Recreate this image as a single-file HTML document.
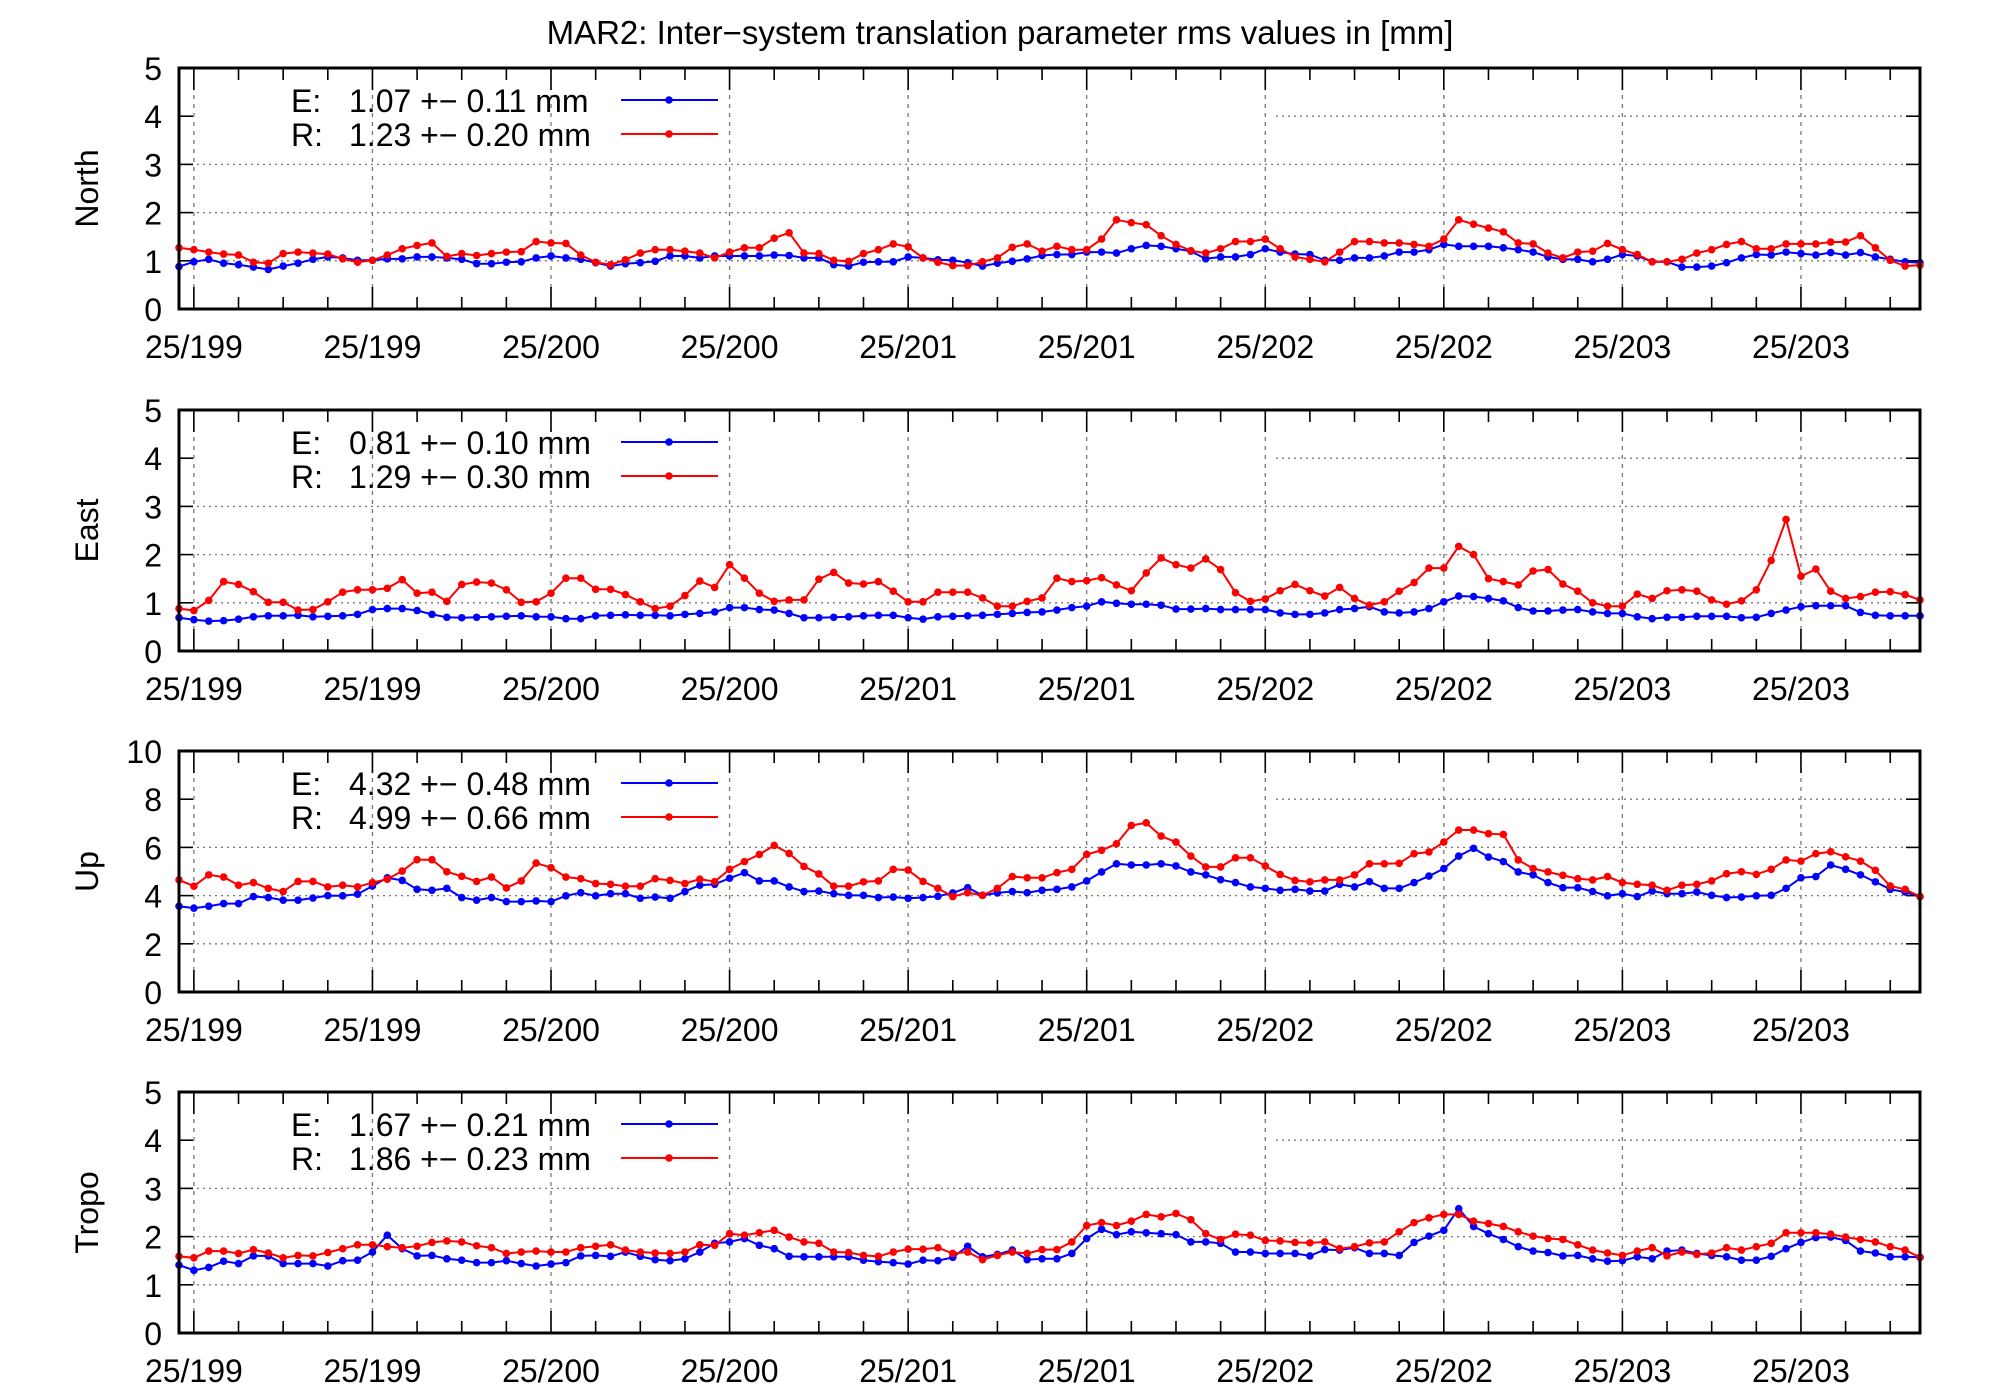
<!DOCTYPE html>
<html><head><meta charset="utf-8"><style>
html,body{margin:0;padding:0;background:#fff;}
svg{display:block;font-family:"Liberation Sans",sans-serif;}
</style></head><body>
<svg id="chart" width="2000" height="1400" viewBox="0 0 2000 1400" xmlns="http://www.w3.org/2000/svg">
<rect width="2000" height="1400" fill="#fff"/>
<text x="1000" y="44" font-size="33" text-anchor="middle">MAR2: Inter−system translation parameter rms values in [mm]</text>
</svg>
<script>
const xTickLabels=["25/199","25/199","25/200","25/200","25/201","25/201","25/202","25/202","25/203","25/203"];
const panelNames=["North","East","Up","Tropo"];
const panelYMax=[5,5,10,5];
const panelYStep=[1,1,2,1];
const legendE=["1.07 +− 0.11 mm","0.81 +− 0.10 mm","4.32 +− 0.48 mm","1.67 +− 0.21 mm"];
const legendR=["1.23 +− 0.20 mm","1.29 +− 0.30 mm","4.99 +− 0.66 mm","1.86 +− 0.23 mm"];
const northE=[0.88,0.98,1.03,0.95,0.92,0.87,0.82,0.89,0.95,1.03,1.08,1.06,1.01,1.01,1.04,1.04,1.08,1.08,1.06,1.03,0.94,0.94,0.97,0.98,1.06,1.1,1.06,1.03,0.96,0.89,0.94,0.96,0.99,1.1,1.1,1.06,1.1,1.1,1.1,1.1,1.12,1.11,1.06,1.06,0.92,0.89,0.97,0.98,0.98,1.08,1.06,1.02,1.01,0.96,0.89,0.95,0.99,1.04,1.11,
1.13,1.13,1.18,1.18,1.16,1.25,1.32,1.30,1.25,1.2,1.04,1.08,1.08,1.13,1.25,1.18,1.14,1.13,1.01,1.01,1.06,1.06,1.1,1.18,1.18,1.23,1.34,1.30,1.30,1.30,1.27,1.23,1.18,1.08,1.03,1.03,0.98,1.03,1.13,1.1,0.98,0.98,0.87,0.87,0.89,0.96,1.06,1.13,1.12,1.18,1.15,1.12,1.17,1.12,1.17,1.08,1.03,0.98,0.96];
const northR=[1.27,1.23,1.18,1.14,1.12,0.97,0.95,1.15,1.18,1.16,1.14,1.04,0.97,1.01,1.12,1.25,1.32,1.37,1.09,1.15,1.11,1.15,1.18,1.19,1.40,1.37,1.36,1.12,0.97,0.92,1.02,1.16,1.23,1.23,1.2,1.16,1.06,1.18,1.27,1.27,1.47,1.58,1.16,1.15,1.01,0.99,1.15,1.23,1.35,1.29,1.06,0.97,0.9,0.9,0.98,1.06,1.28,1.35,1.2,
1.30,1.23,1.23,1.45,1.85,1.79,1.75,1.52,1.34,1.21,1.16,1.25,1.40,1.40,1.45,1.25,1.08,1.03,0.98,1.18,1.40,1.40,1.37,1.37,1.34,1.30,1.45,1.85,1.76,1.68,1.60,1.37,1.35,1.16,1.06,1.18,1.2,1.36,1.23,1.13,0.98,0.98,1.03,1.16,1.23,1.34,1.40,1.25,1.25,1.35,1.35,1.35,1.39,1.39,1.52,1.27,1.01,0.89,0.91];
const eastE=[0.69,0.65,0.62,0.63,0.66,0.71,0.73,0.73,0.74,0.71,0.72,0.73,0.76,0.86,0.88,0.88,0.84,0.76,0.70,0.69,0.70,0.71,0.72,0.73,0.71,0.71,0.67,0.67,0.73,0.74,0.75,0.74,0.74,0.73,0.76,0.78,0.81,0.90,0.90,0.86,0.85,0.78,0.69,0.69,0.70,0.71,0.73,0.74,0.74,0.69,0.66,0.71,0.72,0.73,0.74,0.76,0.78,0.80,0.81,
0.85,0.90,0.93,1.02,0.99,0.97,0.97,0.95,0.87,0.87,0.88,0.86,0.86,0.86,0.86,0.79,0.76,0.76,0.79,0.86,0.88,0.92,0.81,0.79,0.81,0.88,1.02,1.14,1.13,1.09,1.04,0.90,0.83,0.83,0.85,0.86,0.81,0.78,0.78,0.71,0.67,0.70,0.70,0.72,0.72,0.72,0.69,0.70,0.78,0.85,0.92,0.94,0.94,0.94,0.80,0.74,0.73,0.73,0.73];
const eastR=[0.88,0.84,1.05,1.44,1.38,1.23,1.01,1.01,0.85,0.86,1.02,1.22,1.27,1.27,1.30,1.48,1.20,1.22,1.03,1.38,1.43,1.41,1.27,1.01,1.02,1.20,1.51,1.51,1.28,1.28,1.17,1.02,0.88,0.93,1.15,1.45,1.32,1.79,1.51,1.20,1.03,1.06,1.06,1.49,1.63,1.41,1.39,1.44,1.24,1.02,1.02,1.22,1.22,1.22,1.10,0.93,0.93,1.03,1.10,
1.51,1.44,1.46,1.52,1.37,1.25,1.62,1.93,1.79,1.72,1.91,1.69,1.21,1.03,1.08,1.25,1.38,1.25,1.14,1.32,1.09,0.95,1.02,1.24,1.42,1.72,1.72,2.17,2.0,1.50,1.44,1.37,1.66,1.69,1.39,1.24,1.0,0.93,0.93,1.18,1.09,1.25,1.27,1.24,1.06,0.97,1.04,1.27,1.88,2.73,1.55,1.70,1.24,1.09,1.13,1.22,1.23,1.17,1.06];
const upE=[3.56,3.48,3.56,3.67,3.67,3.96,3.92,3.81,3.81,3.90,4.0,3.99,4.06,4.40,4.74,4.63,4.26,4.22,4.30,3.92,3.81,3.92,3.75,3.75,3.78,3.75,3.99,4.12,3.99,4.08,4.08,3.89,3.94,3.89,4.17,4.43,4.47,4.72,4.95,4.61,4.61,4.36,4.17,4.19,4.08,4.01,4.01,3.92,3.94,3.89,3.92,3.97,4.11,4.33,4.01,4.11,4.17,4.12,4.22,
4.26,4.36,4.61,4.98,5.32,5.27,5.27,5.32,5.23,4.98,4.86,4.66,4.54,4.36,4.30,4.22,4.26,4.19,4.19,4.47,4.36,4.58,4.30,4.30,4.54,4.81,5.12,5.64,5.96,5.60,5.41,4.98,4.86,4.54,4.33,4.33,4.17,3.99,4.08,3.96,4.19,4.08,4.08,4.15,4.01,3.92,3.94,3.99,4.01,4.30,4.74,4.79,5.27,5.09,4.86,4.57,4.26,4.15,3.96];
const upR=[4.65,4.39,4.86,4.77,4.43,4.54,4.30,4.17,4.59,4.59,4.36,4.43,4.36,4.54,4.68,5.02,5.49,5.49,4.99,4.80,4.59,4.77,4.32,4.61,5.35,5.16,4.77,4.70,4.50,4.47,4.39,4.39,4.70,4.63,4.50,4.68,4.58,5.09,5.41,5.71,6.08,5.75,5.21,4.90,4.39,4.39,4.57,4.61,5.09,5.06,4.59,4.30,3.96,4.12,4.01,4.30,4.79,4.74,4.74,
4.95,5.09,5.71,5.88,6.15,6.91,7.02,6.47,6.22,5.64,5.19,5.19,5.57,5.57,5.23,4.88,4.63,4.57,4.65,4.65,4.86,5.32,5.32,5.34,5.74,5.81,6.22,6.72,6.72,6.57,6.54,5.48,5.12,4.98,4.84,4.70,4.65,4.79,4.54,4.47,4.43,4.22,4.43,4.47,4.61,4.91,4.99,4.88,5.09,5.48,5.43,5.74,5.82,5.61,5.43,5.05,4.40,4.26,3.96];
const tropoE=[1.41,1.30,1.36,1.49,1.44,1.60,1.60,1.44,1.44,1.44,1.39,1.50,1.51,1.68,2.03,1.75,1.60,1.61,1.54,1.51,1.46,1.46,1.50,1.44,1.39,1.43,1.46,1.60,1.61,1.59,1.68,1.59,1.52,1.50,1.54,1.68,1.86,1.89,1.96,1.82,1.75,1.59,1.58,1.58,1.58,1.58,1.51,1.48,1.46,1.43,1.51,1.50,1.57,1.80,1.58,1.63,1.72,1.52,1.54,
1.54,1.65,1.96,2.15,2.04,2.10,2.08,2.06,2.04,1.89,1.89,1.86,1.68,1.68,1.65,1.65,1.65,1.60,1.73,1.72,1.77,1.65,1.65,1.61,1.88,2.01,2.13,2.58,2.21,2.06,1.94,1.79,1.70,1.67,1.60,1.61,1.54,1.49,1.50,1.58,1.54,1.70,1.72,1.65,1.61,1.58,1.51,1.51,1.59,1.75,1.88,1.98,1.99,1.92,1.70,1.66,1.58,1.58,1.57];
const tropoR=[1.59,1.56,1.70,1.70,1.65,1.73,1.66,1.56,1.61,1.60,1.67,1.75,1.83,1.83,1.79,1.77,1.80,1.88,1.91,1.89,1.81,1.77,1.65,1.68,1.70,1.68,1.68,1.77,1.80,1.83,1.72,1.68,1.66,1.65,1.68,1.83,1.82,2.06,2.03,2.08,2.13,1.99,1.89,1.86,1.68,1.67,1.61,1.59,1.68,1.74,1.74,1.77,1.65,1.68,1.52,1.61,1.68,1.65,1.73,
1.73,1.89,2.23,2.29,2.23,2.32,2.46,2.41,2.48,2.35,2.06,1.94,2.05,2.03,1.92,1.91,1.88,1.87,1.89,1.75,1.79,1.87,1.89,2.10,2.29,2.39,2.46,2.46,2.32,2.27,2.21,2.10,2.01,1.96,1.94,1.83,1.72,1.66,1.61,1.70,1.77,1.60,1.68,1.63,1.66,1.77,1.72,1.79,1.86,2.08,2.08,2.08,2.05,1.99,1.94,1.89,1.79,1.72,1.57];
const seriesE=[northE,eastE,upE,tropoE];
const seriesR=[northR,eastR,upR,tropoR];

const NS="http://www.w3.org/2000/svg";
const svg=document.getElementById('chart');
const X0=179,X1=1920,M_MIN=0,M_MAX=117;
const PANEL_TOPS=[68,410,751,1092],PANEL_H=241;
function xScale(m){return X0+(m-M_MIN)/(M_MAX-M_MIN)*(X1-X0);}
function mk(tag,attrs,parent){const e=document.createElementNS(NS,tag);for(const k in attrs)e.setAttribute(k,attrs[k]);(parent||svg).appendChild(e);return e;}

panelNames.forEach((name,p)=>{
  const top=PANEL_TOPS[p],bot=top+PANEL_H,ymax=panelYMax[p],step=panelYStep[p];
  const yScale=v=>bot-(v/ymax)*PANEL_H;
  const g=mk('g',{});
  
  
  for(let v=step;v<ymax;v+=step){
    const y=yScale(v);
    const x0=(v>=ymax-step)?1276:X0;
    const gl=mk('line',{x1:x0,x2:X1,y1:y,y2:y,stroke:'#777',"stroke-width":1.3,"stroke-dasharray":"2,4"},g);
    
    
  }
  for(let m=1;m<=M_MAX;m+=3){
    const x=xScale(m);const major=((m-1)%12===0);
    if(major){
      const vg=mk('line',{x1:x,x2:x,y1:top,y2:bot,stroke:'#777',"stroke-width":1.3,"stroke-dasharray":"4,5"},g);
      
      
      const lab=mk('text',{x:x,y:bot+49,"font-size":32,"text-anchor":"middle",fill:'#000'},g);
      lab.textContent=xTickLabels[(m-1)/12];
      
      
    }
    const L=major?22:12;
    mk('line',{x1:x,x2:x,y1:bot,y2:bot-L,stroke:'#000',"stroke-width":1.6},g);
    mk('line',{x1:x,x2:x,y1:top,y2:top+L,stroke:'#000',"stroke-width":1.6},g);
  }
  for(let v=0;v<=ymax;v+=step){
    const y=yScale(v);
    mk('line',{x1:X0,x2:X0+14,y1:y,y2:y,stroke:'#000',"stroke-width":1.6},g);
    mk('line',{x1:X1,x2:X1-14,y1:y,y2:y,stroke:'#000',"stroke-width":1.6},g);
    const t=mk('text',{x:162,y:y+12,"font-size":32,"text-anchor":"end"},g);
    t.textContent=String(v);
    
    
  }
  const yt=mk('text',{x:0,y:0,"font-size":32,"text-anchor":"middle",transform:`translate(98,${top+PANEL_H/2}) rotate(-90)`},g);
  yt.textContent=name;
  
  
  [[seriesE[p],'#0000ff','series-e'],[seriesR[p],'#ff0000','series-r']].forEach(([arr,col,nm])=>{
    const pts=arr.map((v,i)=>xScale(i).toFixed(1)+','+yScale(v).toFixed(1)).join(' ');
    const pl=mk('polyline',{points:pts,fill:'none',stroke:col,"stroke-width":2},g);
    
    
    arr.forEach((v,i)=>{
      const c=mk('circle',{cx:xScale(i),cy:yScale(v),r:3.8,fill:col},g);
      
      
    });
  });
  [[legendE[p],'E:','#0000ff',32],[legendR[p],'R:','#ff0000',66]].forEach(([txt,lbl,col,dy])=>{
    const lg=mk('g',{},g);
    
    
    const y=top+dy;
    const a=mk('text',{x:291,y:y+12,"font-size":32},lg);a.textContent=lbl;
    const b=mk('text',{x:349,y:y+12,"font-size":32},lg);b.textContent=txt;
    mk('line',{x1:621,x2:718,y1:y,y2:y,stroke:col,"stroke-width":2},lg);
    mk('circle',{cx:669,cy:y,r:3.8,fill:col},lg);
  });
  const fr=mk('rect',{x:X0,y:top,width:X1-X0,height:PANEL_H,fill:'none',stroke:'#000',"stroke-width":3},g);
  
  
});
</script>
</body></html>
